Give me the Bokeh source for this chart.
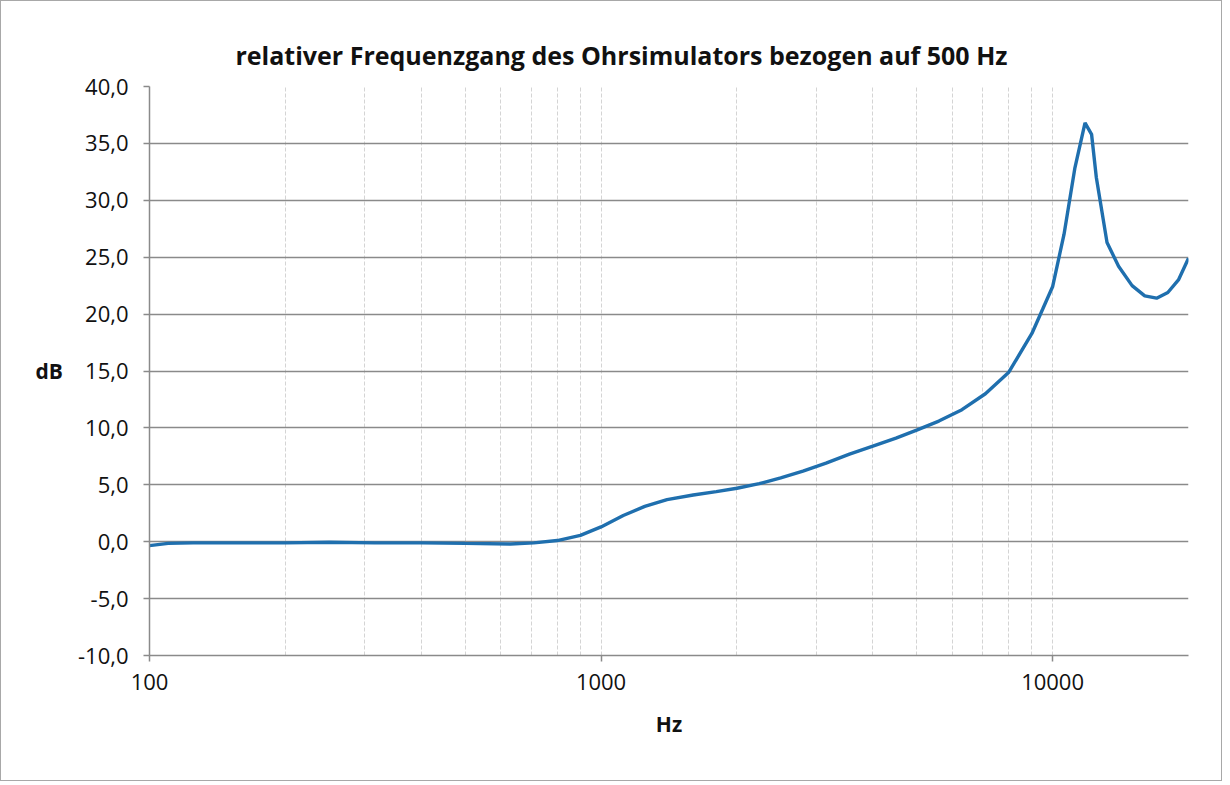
from bokeh.plotting import figure
from bokeh.models import FixedTicker, Range1d
from bokeh.embed import file_html
from bokeh.resources import INLINE

# ---- data ----
freq_hz = [100, 110, 125, 160, 200, 250, 315, 400, 500, 630, 710, 800, 900,
           1000, 1120, 1250, 1400, 1600, 1800, 2000, 2240, 2500, 2800, 3150,
           3550, 4000, 4500, 5000, 5600, 6300, 7100, 8000, 9000, 9500, 10000,
           10600, 11200, 11800, 12200, 12500, 13200, 14000, 15000, 16000,
           17000, 18000, 19000, 20000]
level_db = [-0.35, -0.15, -0.1, -0.1, -0.1, -0.05, -0.1, -0.1, -0.15, -0.2, -0.1, 0.1, 0.55,
            1.3, 2.3, 3.1, 3.7, 4.1, 4.4, 4.7, 5.1, 5.6, 6.2, 6.9,
            7.7, 8.4, 9.1, 9.8, 10.6, 11.6, 13.0, 14.9, 18.3, 20.4, 22.4,
            27.0, 32.8, 36.8, 35.8, 32.0, 26.3, 24.2, 22.5, 21.6,
            21.4, 21.9, 23.0, 24.9]

x_major_ticks = [100, 1000, 10000]
x_grid_ticks = [100, 200, 300, 400, 500, 600, 700, 800, 900,
                1000, 2000, 3000, 4000, 5000, 6000, 7000, 8000, 9000,
                10000, 20000]
y_ticks = [-10, -5, 0, 5, 10, 15, 20, 25, 30, 35, 40]
y_tick_labels = ["-10,0", "-5,0", "0,0", "5,0", "10,0", "15,0", "20,0",
                 "25,0", "30,0", "35,0", "40,0"]

title_text = "relativer Frequenzgang des Ohrsimulators bezogen auf 500 Hz"
x_label = "Hz"
y_label = "dB"

FONT = "Open Sans"

p = figure(width=1222, height=781, x_axis_type="log",
           x_range=Range1d(100, 20000), y_range=Range1d(-10, 40),
           output_backend="svg", toolbar_location=None,
           min_border_left=148, min_border_right=35,
           min_border_top=85, min_border_bottom=127)
p.styles = {"border": "1px solid #a8a8a8"}
p.outline_line_color = None
p.background_fill_color = "white"
p.border_fill_color = "white"

# title
p.title.text = title_text
p.title.align = "left"
p.title.offset = 86
p.title.standoff = 30
p.title.text_font = FONT
p.title.text_font_size = "25px"
p.title.text_font_style = "bold"
p.title.text_color = "#111111"

# grids
p.xgrid.ticker = FixedTicker(ticks=x_grid_ticks)
p.xgrid.grid_line_color = "#d4d4d4"
p.xgrid.grid_line_width = 1
p.xgrid.grid_line_dash = "4 2"
p.ygrid.ticker = FixedTicker(ticks=y_ticks)
p.ygrid.grid_line_color = "#8a8a8a"
p.ygrid.grid_line_width = 1.5

# axes
p.xaxis.ticker = FixedTicker(ticks=x_major_ticks, minor_ticks=[])
p.xaxis.major_label_overrides = {t: str(t) for t in x_major_ticks}
p.yaxis.ticker = FixedTicker(ticks=y_ticks, minor_ticks=[])
p.yaxis.major_label_overrides = dict(zip(y_ticks, y_tick_labels))
for ax in (p.xaxis, p.yaxis):
    ax.axis_line_color = "#8a8a8a"
    ax.axis_line_width = 1.5
    ax.major_tick_line_color = "#8a8a8a"
    ax.major_tick_line_width = 1.5
    ax.major_tick_in = 0
    ax.major_tick_out = 6
    ax.minor_tick_line_color = None
    ax.major_label_text_font = FONT
    ax.major_label_text_font_size = "22px"
    ax.major_label_text_color = "#111111"
    ax.axis_label_text_font = FONT
    ax.axis_label_text_font_size = "21px"
    ax.axis_label_text_font_style = "bold"
    ax.axis_label_text_color = "#111111"
p.yaxis.major_label_standoff = 15
p.xaxis.major_label_standoff = 12
p.xaxis.axis_label = x_label
p.xaxis.axis_label_standoff = 17
p.yaxis.axis_label = y_label
p.yaxis.axis_label_orientation = "horizontal"
p.yaxis.axis_label_standoff = 12

p.line(freq_hz, level_db, line_color="#1f6fae", line_width=3.4)

open("out.html", "w").write(file_html(p, INLINE))
